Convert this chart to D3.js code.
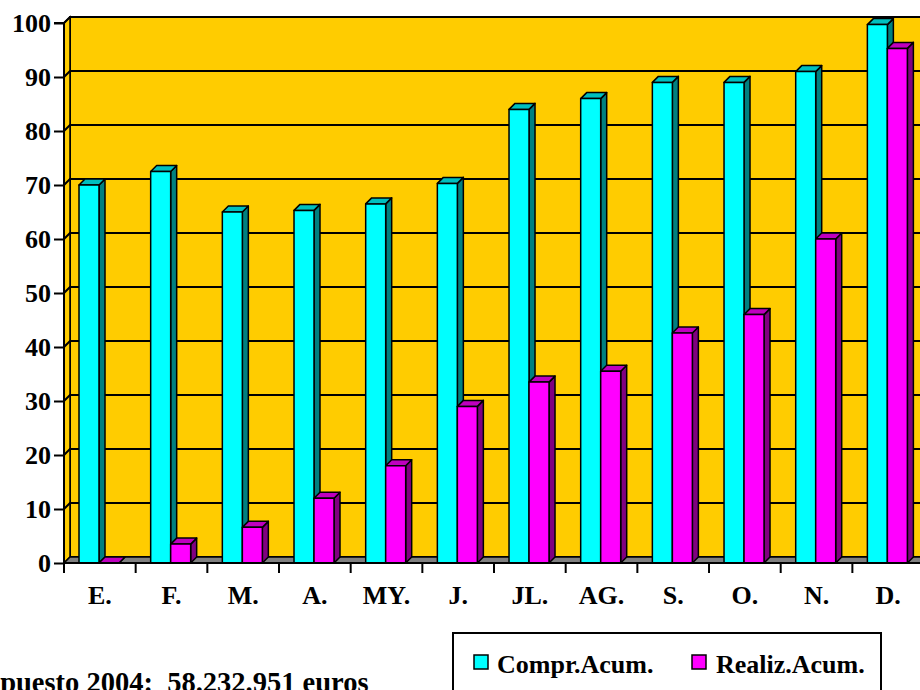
<!DOCTYPE html>
<html><head><meta charset="utf-8">
<script src="https://cdn.jsdelivr.net/npm/d3@7"></script>
<style>html,body{margin:0;padding:0;background:#fff;overflow:hidden}svg{display:block}</style>
</head><body>
<svg id="c" width="920" height="690"></svg>
<script>
const months = ["E.","F.","M.","A.","MY.","J.","JL.","AG.","S.","O.","N.","D."];
const comprAcum = [70, 72.5, 65, 65.3, 66.5, 70.3, 84, 86, 89, 89, 91, 99.7];
const realizAcum = [0, 3.5, 6.6, 12, 18, 29, 33.5, 35.5, 42.6, 46, 60, 95.3];
const yTicks = [0,10,20,30,40,50,60,70,80,90,100];
const seriesNames = ["Compr.Acum.","Realiz.Acum."];
const footnote = "Presupuesto 2004:  58.232.951 euros";

const FONT = "'Liberation Serif','Times New Roman',serif";
const FS = 26;
const svg = d3.select("#c");
const D = 6; // depth offset
const x0 = 64, bandW = 71.67;
const x = d3.scaleBand().domain(months).range([x0, x0 + bandW*months.length]).paddingInner(0).paddingOuter(0);
const y = d3.scaleLinear().domain([0,100]).range([563, 23]);
const right = 940;

// back wall
svg.append("rect").attr("x", x0+D).attr("y", y(100)-D).attr("width", right-(x0+D)).attr("height", y(0)-y(100))
  .attr("fill","#FFCC00").attr("stroke","#000").attr("stroke-width",2);
// left wall
svg.append("path").attr("d", `M${x0},${y(100)} L${x0+D},${y(100)-D} L${x0+D},${y(0)-D} L${x0},${y(0)} Z`)
  .attr("fill","#FFCC00").attr("stroke","#000").attr("stroke-width",1.5);
// floor
svg.append("path").attr("d", `M${x0},${y(0)} L${x0+D},${y(0)-D} L${right},${y(0)-D} L${right},${y(0)} Z`)
  .attr("fill","#808080").attr("stroke","#000").attr("stroke-width",1.5);
// gridlines
const g = svg.append("g");
yTicks.filter(t=>t>0).forEach(t=>{
  g.append("path").attr("d", `M${x0},${y(t)} L${x0+D},${y(t)-D} L${right},${y(t)-D}`)
   .attr("fill","none").attr("stroke","#000").attr("stroke-width",2);
});

// bars
const bw = 20;
function bar3d(xl, val, front, top, side){
  const yt = y(val), yb = y(0);
  const grp = svg.append("g").attr("stroke","#000").attr("stroke-width",1.5).attr("stroke-linejoin","round");
  grp.append("path").attr("d", `M${xl+bw},${yt} L${xl+bw+D},${yt-D} L${xl+bw+D},${yb-D} L${xl+bw},${yb} Z`).attr("fill", side);
  grp.append("path").attr("d", `M${xl},${yt} L${xl+D},${yt-D} L${xl+bw+D},${yt-D} L${xl+bw},${yt} Z`).attr("fill", top);
  grp.append("rect").attr("x", xl).attr("y", yt).attr("width", bw).attr("height", yb-yt).attr("fill", front);
}
months.forEach((m,i)=>{
  const bx = x(m) + 15;
  bar3d(bx, comprAcum[i], "#00FFFF", "#00BFBF", "#008080");
  bar3d(bx+bw, realizAcum[i], "#FF00FF", "#BF00BF", "#800080");
});

// axes
const yAxis = d3.axisLeft(y).tickValues(yTicks).tickSize(10).tickPadding(3).tickFormat(d3.format("d"));
const ya = svg.append("g").attr("transform", `translate(${x0},0)`).call(yAxis);
ya.select(".domain").attr("stroke","#000").attr("stroke-width",2).attr("d", `M-10,${y(100)}H0V${y(0)}`);
ya.selectAll(".tick line").attr("stroke","#000").attr("stroke-width",2);
ya.selectAll("text").attr("font-family",FONT).attr("font-weight","bold").attr("font-size",FS).attr("fill","#000").attr("dy","0.33em");

const xAxis = d3.axisBottom(x).tickSize(0).tickPadding(0);
const xa = svg.append("g").attr("transform", `translate(0,${y(0)})`).call(xAxis);
xa.select(".domain").attr("stroke","#000").attr("stroke-width",2).attr("d", `M${x0},0H${right}`);
xa.selectAll("text").attr("font-family",FONT).attr("font-weight","bold").attr("font-size",FS).attr("fill","#000").attr("y",41).attr("dy",0);
// category separator ticks
const sep = d3.range(months.length+1).map(i=>x0+bandW*i);
xa.selectAll(".sep").data(sep).enter().append("line").attr("x1",d=>d).attr("x2",d=>d).attr("y1",0).attr("y2",10)
  .attr("stroke","#000").attr("stroke-width",2);

// legend
const lg = svg.append("g");
lg.append("rect").attr("x",453).attr("y",633).attr("width",428).attr("height",70).attr("fill","#fff").attr("stroke","#000").attr("stroke-width",2);
const lcol = ["#00FFFF","#FF00FF"], lx = [474, 692], tx = [497, 716];
seriesNames.forEach((n,i)=>{
  lg.append("rect").attr("x",lx[i]).attr("y",655).attr("width",14).attr("height",14).attr("fill",lcol[i]).attr("stroke","#000").attr("stroke-width",1.5);
  lg.append("text").attr("x",tx[i]).attr("y",673).text(n).attr("font-family",FONT).attr("font-weight","bold").attr("font-size",FS).attr("fill","#000");
});

// footnote
svg.append("text").attr("x",-69).attr("y",692).text(footnote).attr("font-family",FONT).attr("font-weight","bold").attr("font-size",28.5).attr("fill","#000").attr("xml:space","preserve").style("white-space","pre");
</script>
</body></html>
